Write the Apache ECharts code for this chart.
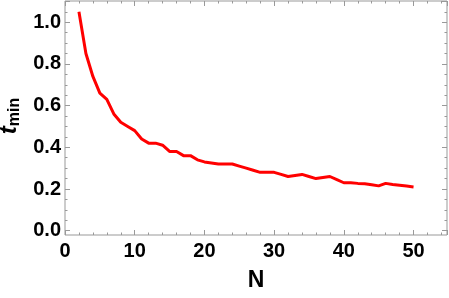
<!DOCTYPE html>
<html><head><meta charset="utf-8">
<script src="https://cdn.jsdelivr.net/npm/echarts@6/dist/echarts.min.js"></script>
<style>html,body{margin:0;padding:0;background:#fff}#c{width:449px;height:298px}</style>
</head><body><div id="c"></div>
<script>
const nValues = [2,3,4,5,6,7,8,9,10,11,12,13,14,15,16,17,18,19,20,21,22,23,24,25,26,27,28,29,30,31,32,33,34,35,36,37,38,39,40,41,42,43,44,45,46,47,48,49,50];
const tMin = [1.05,0.85,0.74,0.66,0.63,0.56,0.52,0.50,0.48,0.44,0.42,0.42,0.41,0.38,0.38,0.36,0.36,0.34,0.33,0.325,0.32,0.32,0.32,0.31,0.30,0.29,0.28,0.28,0.28,0.27,0.26,0.265,0.27,0.26,0.25,0.255,0.26,0.245,0.23,0.23,0.227,0.225,0.22,0.215,0.227,0.222,0.218,0.214,0.21];
const xTicks = [0,10,20,30,40,50];
const yTicks = [0.0,0.2,0.4,0.6,0.8,1.0];

const frameColor = '#999999';
const labelFont = {fontFamily:'Liberation Sans, Arial, sans-serif', fontWeight:'bold', fontSize:20, color:'#000'};
const chart = echarts.init(document.getElementById('c'));
const tickX = {show:true, inside:true, length:5, lineStyle:{color:frameColor}};
const minorX = {show:true, splitNumber:5, length:2.5, lineStyle:{color:frameColor}};
const tickY = {show:true, inside:true, length:5, lineStyle:{color:frameColor}};
const minorY = {show:true, splitNumber:4, length:2.5, lineStyle:{color:frameColor}};
chart.setOption({
  animation:false,
  grid:[
    {left:65, right:2, top:1, bottom:63, show:true, borderColor:frameColor, borderWidth:1, backgroundColor:'transparent', containLabel:false, outerBoundsMode:'none'},
    {left:65, right:2, top:1.4, bottom:67.3, containLabel:false, outerBoundsMode:'none'}
  ],
  xAxis:[
    {gridIndex:0, type:'value', min:0, max:54.8, interval:10, position:'bottom',
     axisLine:{show:false}, axisTick:tickX, minorTick:minorX, splitLine:{show:false},
     axisLabel:Object.assign({margin:6, formatter:v=>xTicks.includes(v)?String(v):''}, labelFont),
     name:'N', nameLocation:'middle', nameGap:34,
     nameTextStyle:{fontFamily:'Liberation Sans, Arial, sans-serif', fontWeight:'bold', fontSize:23, color:'#000'}},
    {gridIndex:0, type:'value', min:0, max:54.8, interval:10, position:'top',
     axisLine:{show:false}, axisTick:tickX, minorTick:minorX, splitLine:{show:false}, axisLabel:{show:false}},
    {gridIndex:1, type:'value', min:0, max:54.8, show:false}
  ],
  yAxis:[
    {gridIndex:1, type:'value', min:0, max:1.1, interval:0.2, position:'left',
     axisLine:{show:false}, axisTick:tickY, minorTick:minorY, splitLine:{show:false},
     axisLabel:Object.assign({margin:4, formatter:v=>{const f=yTicks.find(t=>Math.abs(t-v)<1e-9);return f===undefined?'':f.toFixed(1);}}, labelFont),
     name:'{t|t}{s|min}', nameLocation:'middle', nameGap:37, nameRotate:90,
     nameTextStyle:{rich:{
       t:{fontFamily:'Liberation Sans, Arial, sans-serif', fontWeight:'bold', fontStyle:'italic', fontSize:24, color:'#000'},
       s:{fontFamily:'Liberation Sans, Arial, sans-serif', fontWeight:'bold', fontSize:16, color:'#000', verticalAlign:'bottom', padding:[9,0,0,0]}
     }}},
    {gridIndex:1, type:'value', min:0, max:1.1, interval:0.2, position:'right',
     axisLine:{show:false}, axisTick:tickY, minorTick:minorY, splitLine:{show:false}, axisLabel:{show:false}},
    {gridIndex:0, type:'value', show:false}
  ],
  series:[{
    type:'line', xAxisIndex:2, yAxisIndex:0, data:nValues.map((n,i)=>[n,tMin[i]]),
    showSymbol:false, symbol:'none', lineStyle:{color:'#ff0000', width:3}, itemStyle:{color:'#ff0000'}
  }]
});
</script></body></html>
